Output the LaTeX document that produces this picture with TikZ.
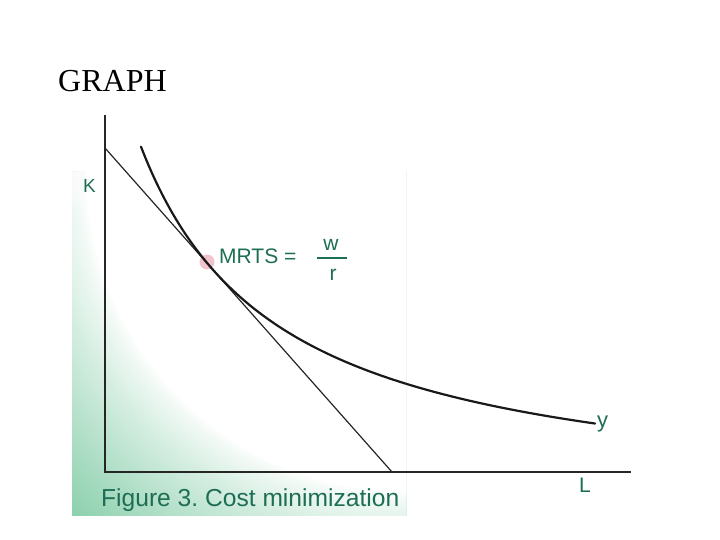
\documentclass[tikz,border=0pt]{standalone}
\usepackage{fontspec}
\setmainfont{Liberation Serif}
\newfontfamily\arialf{Liberation Sans}
\definecolor{txtgreen}{RGB}{30,110,85}
\definecolor{bggreen}{RGB}{138,207,172}
\definecolor{dotpink}{RGB}{240,195,205}
\frenchspacing
\begin{document}
\begin{tikzpicture}[x=1pt,y=-1pt,
  lbl/.style={text=txtgreen, font=\arialf\fontsize{21}{24}\selectfont, inner sep=0pt},
  axisline/.style={line width=2.4pt, black!85},
  curveline/.style={line width=2.2pt, black!90},
  budgetline/.style={line width=1.2pt, black!85}]
\useasboundingbox[fill=white] (0,0) rectangle (720,540);
% green shaded backdrop (stepped radial fade from the upper right)
\begin{scope}
  \clip (72,172) rectangle (406,515);
  \foreach \i in {0,...,60}{
    \pgfmathsetmacro{\rad}{485-\i*(485-320)/60}
    \pgfmathsetmacro{\pct}{100*((60-\i)/60)^0.8}
    \fill[bggreen!\pct!white] (406,172) circle (\rad);
  }
  \fill[white] (406,172) circle (320);
  % soften the top edge of the strip
  \foreach \k in {1,...,12}{
    \fill[white, opacity=0.18] (72,172) rectangle (406,{172+\k*3});
  }
\end{scope}
% title
\node[anchor=base west, inner sep=0pt, font=\fontsize{32}{36}\selectfont] (title) at (58,92) {GRAPH};
% tangency dot
\fill[dotpink] (207,262) circle (7.5);
% axes
\coordinate (O) at (105,472);
\coordinate (Ktop) at (105,115);
\coordinate (Lend) at (631,472);
\draw[axisline] (Ktop) -- (O) -- (Lend);
% budget line
\coordinate (B1) at (105,148);
\coordinate (B2) at (392,472);
\draw[budgetline] (B1) -- (B2);
% isoquant
\draw[curveline, line cap=round] plot[domain=141:595, samples=120, smooth] (\x, {508.7 - 505.71/((\x-1.3)/100)});
% labels
\node[lbl, anchor=base west, font=\arialf\fontsize{19}{22}\selectfont] (K) at (83,193) {K};
\node[lbl, anchor=base west] (mrts) at (219,263) {MRTS =};
\node[lbl, anchor=base] (w) at (331,251) {w};
\node[lbl, anchor=base] (r) at (333,280) {r};
\coordinate (barL) at (317,258);
\coordinate (barR) at (347,258);
\draw[txtgreen, line width=1.1pt] (barL) -- (barR);
\node[lbl, anchor=base west, font=\arialf\fontsize{22}{24}\selectfont] (y) at (597,427) {y};
\node[lbl, anchor=base west] (L) at (579,492) {L};
\node[lbl, anchor=base west, font=\arialf\fontsize{24.6}{28}\selectfont] (cap) at (101,506) {Figure 3. Cost minimization};
\end{tikzpicture}
\end{document}
